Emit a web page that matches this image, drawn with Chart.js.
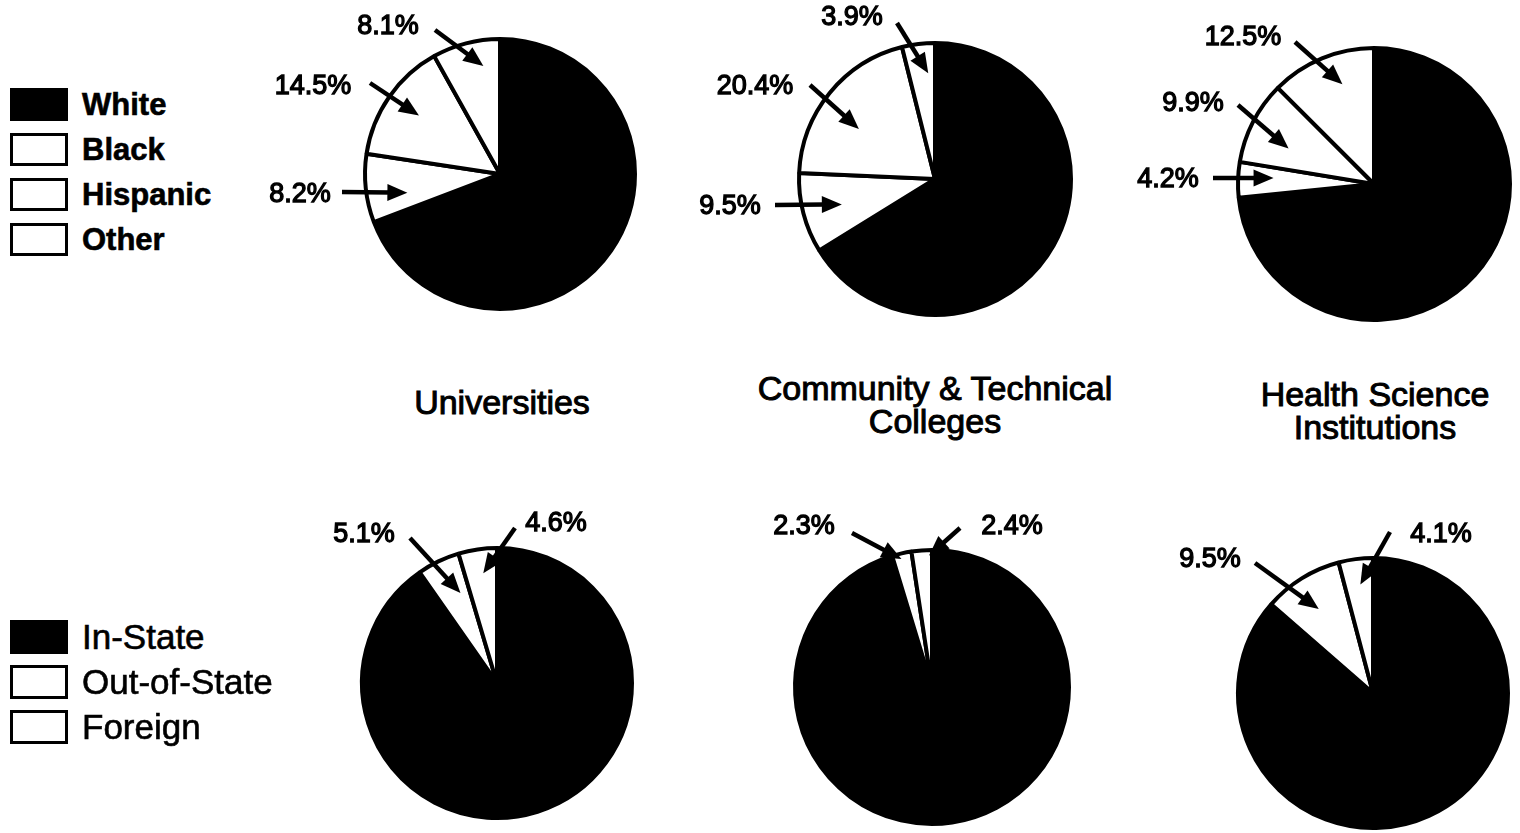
<!DOCTYPE html>
<html>
<head>
<meta charset="utf-8">
<title>Enrollment by Ethnicity and Residency</title>
<script src="https://cdn.jsdelivr.net/npm/chart.js@4.4.1/dist/chart.umd.min.js"></script>
<style>
  html, body { margin: 0; padding: 0; background: #fff; }
  body { width: 1520px; height: 833px; position: relative; overflow: hidden;
         font-family: "Liberation Sans", Arial, Helvetica, sans-serif; color: #000; }
  .pie { position: absolute; }
  .legend-row { position: absolute; left: 10px; display: flex; align-items: center; }
  .swatch { box-sizing: border-box; border: 3px solid #000; margin-right: 14px; }
  .legend-row span { line-height: 1; }
  .title { position: absolute; text-align: center; font-size: 34px; line-height: 33px;
           -webkit-text-stroke: 1px #000; width: 420px; }
</style>
</head>
<body>

<script>
// ---- data ----
const ethnicLabels = ['White', 'Black', 'Hispanic', 'Other'];
const residencyLabels = ['In-State', 'Out-of-State', 'Foreign'];
const institutionTitles = [
  ['Universities'],
  ['Community & Technical', 'Colleges'],
  ['Health Science', 'Institutions']
];

const univEthnic = [69.2, 8.2, 14.5, 8.1];
const ctcEthnic  = [66.2, 9.5, 20.4, 3.9];
const hsiEthnic  = [73.4, 4.2, 9.9, 12.5];

const univResidency = [90.3, 5.1, 4.6];
const ctcResidency  = [95.3, 2.3, 2.4];
const hsiResidency  = [86.4, 9.5, 4.1];

const ethnicColors = ['#000000', '#ffffff', '#ffffff', '#ffffff'];
const residencyColors = ['#000000', '#ffffff', '#ffffff'];

// ---- layout: pie centre / radius and callouts (offsets from centre) ----
// callout: i = slice, text = label centre, tail = arrow start,
// f = position across the slice (0..1), rf = tip distance as fraction of radius
const pies = [
  { data: univEthnic, labels: ethnicLabels, colors: ethnicColors, cx: 500, cy: 174, r: 137,
    callouts: [
      { i: 3, text: [-112, -147], tail: [-65, -144], f: 0.70, rf: 0.81 },
      { i: 2, text: [-187, -87],  tail: [-130, -91], f: 0.52, rf: 0.74 },
      { i: 1, text: [-200, 21],   tail: [-158, 18],  f: 0.32, rf: 0.70 }
    ] },
  { data: ctcEthnic, labels: ethnicLabels, colors: ethnicColors, cx: 935, cy: 179, r: 138,
    callouts: [
      { i: 3, text: [-83, -161],  tail: [-38, -156],  f: 0.74, rf: 0.78 },
      { i: 2, text: [-180, -92],  tail: [-125, -94],  f: 0.42, rf: 0.67 },
      { i: 1, text: [-205, 28],   tail: [-160, 26],   f: 0.48, rf: 0.71 }
    ] },
  { data: hsiEthnic, labels: ethnicLabels, colors: ethnicColors, cx: 1374, cy: 184, r: 138,
    callouts: [
      { i: 3, text: [-131, -146], tail: [-79, -142],  f: 0.61, rf: 0.77 },
      { i: 2, text: [-181, -80],  tail: [-136, -79],  f: 0.37, rf: 0.68 },
      { i: 1, text: [-206, -4],   tail: [-161, -6],   f: 0.61, rf: 0.74 }
    ] },
  { data: univResidency, labels: residencyLabels, colors: residencyColors, cx: 497, cy: 683, r: 137,
    callouts: [
      { i: 1, text: [-133, -148], tail: [-87, -145], f: 0.70, rf: 0.72 },
      { i: 2, text: [59, -159],   tail: [18, -155],  f: 0.57, rf: 0.82 }
    ] },
  { data: ctcResidency, labels: residencyLabels, colors: residencyColors, cx: 932, cy: 687, r: 139,
    callouts: [
      { i: 1, text: [-128, -160], tail: [-80, -154], f: 0.42, rf: 0.96 },
      { i: 2, text: [80, -160],   tail: [28, -159],  f: 0.85, rf: 0.96 }
    ] },
  { data: hsiResidency, labels: residencyLabels, colors: residencyColors, cx: 1373, cy: 693, r: 137,
    callouts: [
      { i: 1, text: [-163, -133], tail: [-118, -130], f: 0.47, rf: 0.74 },
      { i: 2, text: [68, -158],   tail: [17, -161],   f: 0.55, rf: 0.81 }
    ] }
];

// canvas box around each pie centre
const BOX_L = 260, BOX_R = 160, BOX_T = 185, BOX_B = 160;

function drawArrow(ctx, x0, y0, x1, y1) {
  const ang = Math.atan2(y1 - y0, x1 - x0);
  const head = 20, half = 8.5;
  const bx = x1 - Math.cos(ang) * head, by = y1 - Math.sin(ang) * head;
  ctx.beginPath();
  ctx.moveTo(x0, y0);
  ctx.lineTo(bx + Math.cos(ang) * 3, by + Math.sin(ang) * 3);
  ctx.lineWidth = 4.5;
  ctx.lineCap = 'butt';
  ctx.strokeStyle = '#000';
  ctx.stroke();
  ctx.beginPath();
  ctx.moveTo(x1, y1);
  ctx.lineTo(bx + Math.sin(ang) * half, by - Math.cos(ang) * half);
  ctx.lineTo(bx - Math.sin(ang) * half, by + Math.cos(ang) * half);
  ctx.closePath();
  ctx.fillStyle = '#000';
  ctx.fill();
}

// percent callouts with arrows pointing into their slices
const calloutPlugin = {
  id: 'callouts',
  afterDatasetsDraw(chart, args, opts) {
    const ctx = chart.ctx;
    const arcs = chart.getDatasetMeta(0).data;
    const values = chart.data.datasets[0].data;
    ctx.save();
    (opts.items || []).forEach(c => {
      const p = arcs[c.i].getProps(['x', 'y', 'startAngle', 'endAngle', 'outerRadius'], true);
      const a = p.startAngle + c.f * (p.endAngle - p.startAngle);
      const tipX = p.x + Math.cos(a) * p.outerRadius * c.rf;
      const tipY = p.y + Math.sin(a) * p.outerRadius * c.rf;
      drawArrow(ctx, p.x + c.tail[0], p.y + c.tail[1], tipX, tipY);
      const txt = values[c.i].toFixed(1) + '%';
      ctx.font = '27px "Liberation Sans", Arial, sans-serif';
      ctx.textAlign = 'center';
      ctx.textBaseline = 'middle';
      ctx.fillStyle = '#000';
      ctx.strokeStyle = '#000';
      ctx.lineWidth = 1.3;
      ctx.fillText(txt, p.x + c.text[0], p.y + c.text[1]);
      ctx.strokeText(txt, p.x + c.text[0], p.y + c.text[1]);
    });
    ctx.restore();
  }
};

pies.forEach((p, n) => {
  const wrap = document.createElement('div');
  wrap.className = 'pie';
  wrap.style.left = (p.cx - BOX_L) + 'px';
  wrap.style.top = (p.cy - BOX_T) + 'px';
  const canvas = document.createElement('canvas');
  canvas.width = BOX_L + BOX_R;
  canvas.height = BOX_T + BOX_B;
  wrap.appendChild(canvas);
  document.body.appendChild(wrap);

  new Chart(canvas.getContext('2d'), {
    type: 'pie',
    data: {
      labels: p.labels,
      datasets: [{
        data: p.data,
        backgroundColor: p.colors,
        borderColor: '#000',
        borderWidth: 4
      }]
    },
    options: {
      responsive: false,
      animation: false,
      events: [],
      layout: {
        padding: { left: BOX_L - p.r, right: BOX_R - p.r, top: BOX_T - p.r, bottom: BOX_B - p.r }
      },
      plugins: {
        legend: { display: false },
        tooltip: { enabled: false },
        callouts: { items: p.callouts }
      }
    },
    plugins: [calloutPlugin]
  });
});

// institution titles between the rows
const titleCentres = [[502, 402], [935, 405], [1375, 411]];
institutionTitles.forEach((lines, k) => {
  const d = document.createElement('div');
  d.className = 'title';
  d.innerHTML = lines.join('<br>');
  d.style.left = (titleCentres[k][0] - 210) + 'px';
  d.style.top = (titleCentres[k][1] - lines.length * 33 / 2) + 'px';
  document.body.appendChild(d);
});

// legends on the left
function buildLegend(labels, colors, tops, boxW, boxH, font) {
  labels.forEach((lab, k) => {
    const row = document.createElement('div');
    row.className = 'legend-row';
    row.style.top = tops[k] + 'px';
    row.style.height = boxH + 'px';
    const sw = document.createElement('div');
    sw.className = 'swatch';
    sw.style.width = boxW + 'px';
    sw.style.height = boxH + 'px';
    sw.style.background = colors[k];
    const t = document.createElement('span');
    t.textContent = lab;
    t.style.font = font;
    t.style.webkitTextStroke = '0.6px #000';
    row.appendChild(sw);
    row.appendChild(t);
    document.body.appendChild(row);
  });
}
buildLegend(ethnicLabels, ethnicColors, [88, 133, 178, 223], 58, 33,
  'bold 31px "Liberation Sans", Arial, sans-serif');
buildLegend(residencyLabels, residencyColors, [620, 665, 710], 58, 34,
  '35px "Liberation Sans", Arial, sans-serif');
</script>
</body>
</html>
